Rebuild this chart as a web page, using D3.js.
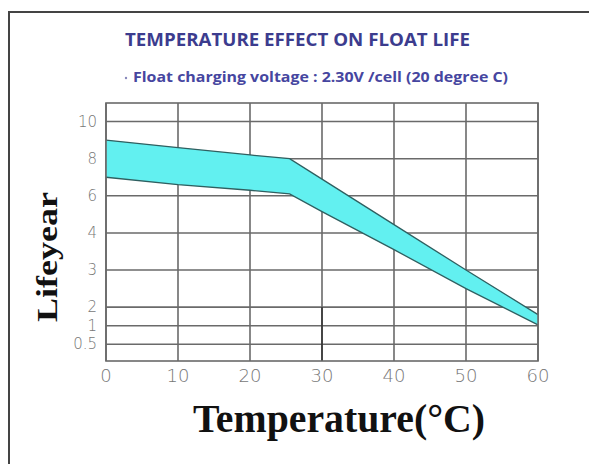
<!DOCTYPE html>
<html>
<head>
<meta charset="utf-8">
<script src="https://cdn.jsdelivr.net/npm/d3@7"></script>
<style>
  body { margin: 0; background: #fff; overflow: hidden; }
</style>
</head>
<body>
<script>
// Data
const temps = [0, 10, 20, 25.5, 30, 40, 50, 60];
const lifeUpper = [9.0, 8.6, 8.2, 8.0, 6.9, 4.45, 3.0, 1.6];
const lifeLower = [7.0, 6.6, 6.3, 6.1, 5.15, 3.55, 2.5, 1.05];

const xTicks = [0, 10, 20, 30, 40, 50, 60];
const yTicks = [0.5, 1, 2, 3, 4, 6, 8, 10];
// the y axis is not linear: each tick sits in its own slot
const ySlots = [0.9, 1.9, 2.9, 4.9, 6.9, 8.9, 10.9, 12.9];

const width = 589, height = 464;
const plotL = 106, plotR = 538, plotT = 103, plotB = 361;

const svg = d3.select('body').append('svg')
  .attr('width', width)
  .attr('height', height);

// frame (only top and left edges show)
svg.append('path')
  .attr('d', `M9,${height} V12 H${width}`)
  .attr('fill', 'none')
  .attr('stroke', '#444')
  .attr('stroke-width', 2);

const x = d3.scaleLinear().domain([0, 60]).range([plotL, plotR]);
const slot = d3.scaleLinear().domain([0, 13.9]).range([plotB, plotT]);
const y = d3.scaleLinear()
  .domain([0, ...yTicks, 11])
  .range([slot(0), ...ySlots.map(slot), slot(13.9)]);

const grid = svg.append('g')
  .attr('stroke', '#6a6a6a')
  .attr('stroke-width', 1.6);

grid.selectAll('line.h').data(yTicks).join('line')
  .attr('class', 'h')
  .attr('x1', plotL).attr('x2', plotR)
  .attr('y1', d => y(d)).attr('y2', d => y(d));

grid.selectAll('line.v').data(xTicks).join('line')
  .attr('class', 'v')
  .attr('x1', d => x(d)).attr('x2', d => x(d))
  .attr('y1', plotT).attr('y2', plotB);

// darker stub of the 30 line below the 2-year line
svg.append('line')
  .attr('x1', x(30)).attr('x2', x(30))
  .attr('y1', y(2)).attr('y2', plotB)
  .attr('stroke', '#222')
  .attr('stroke-width', 1.3);

// the band
const rows = temps.map((t, i) => ({ t, hi: lifeUpper[i], lo: lifeLower[i] }));

svg.append('path')
  .datum(rows)
  .attr('d', d3.area().x(d => x(d.t)).y0(d => y(d.lo)).y1(d => y(d.hi)))
  .attr('fill', '#62f0f0');

const line = key => d3.line().x(d => x(d.t)).y(d => y(d[key]));
['hi', 'lo'].forEach(k => {
  svg.append('path')
    .datum(rows)
    .attr('d', line(k))
    .attr('fill', 'none')
    .attr('stroke', '#2f5f60')
    .attr('stroke-width', 1.3);
});

// plot border
svg.append('rect')
  .attr('x', plotL).attr('y', plotT)
  .attr('width', plotR - plotL).attr('height', plotB - plotT)
  .attr('fill', 'none')
  .attr('stroke', '#6a6a6a')
  .attr('stroke-width', 1.6);

// tick labels
svg.append('g').selectAll('text').data(yTicks).join('text')
  .attr('x', 97)
  .attr('y', d => y(d) + 5)
  .attr('text-anchor', 'end')
  .attr('font-family', 'DejaVu Sans')
  .attr('font-weight', 200)
  .attr('font-size', 15)
  .attr('fill', '#777')
  .text(d => d);

svg.append('g').selectAll('text').data(xTicks).join('text')
  .attr('x', d => x(d))
  .attr('y', 382)
  .attr('text-anchor', 'middle')
  .attr('font-family', 'DejaVu Sans')
  .attr('font-weight', 200)
  .attr('font-size', 18)
  .attr('fill', '#777')
  .text(d => d);

// titles
svg.append('text')
  .attr('x', 125).attr('y', 46)
  .attr('textLength', 345)
  .attr('lengthAdjust', 'spacingAndGlyphs')
  .attr('font-family', 'Open Sans')
  .attr('font-weight', 'bold')
  .attr('font-size', 17)
  .attr('fill', '#3c3c8e')
  .text('TEMPERATURE EFFECT ON FLOAT LIFE');

svg.append('circle')
  .attr('cx', 126).attr('cy', 78).attr('r', 1.2)
  .attr('fill', '#8888bb');

svg.append('text')
  .attr('x', 133).attr('y', 82)
  .attr('textLength', 375)
  .attr('lengthAdjust', 'spacingAndGlyphs')
  .attr('font-family', 'Open Sans')
  .attr('font-weight', 'bold')
  .attr('font-size', 14)
  .attr('fill', '#4646a0')
  .text('Float charging voltage : 2.30V /cell (20 degree C)');

svg.append('text')
  .attr('transform', 'translate(57,257) rotate(-90)')
  .attr('text-anchor', 'middle')
  .attr('textLength', 130)
  .attr('lengthAdjust', 'spacingAndGlyphs')
  .attr('font-family', 'Liberation Serif')
  .attr('font-weight', 'bold')
  .attr('font-size', 30)
  .attr('fill', '#111')
  .text('Lifeyear');

svg.append('text')
  .attr('x', 339).attr('y', 432)
  .attr('text-anchor', 'middle')
  .attr('textLength', 292)
  .attr('lengthAdjust', 'spacingAndGlyphs')
  .attr('font-family', 'Liberation Serif')
  .attr('font-weight', 'bold')
  .attr('font-size', 40)
  .attr('fill', '#111')
  .text('Temperature(°C)');
</script>
</body>
</html>
